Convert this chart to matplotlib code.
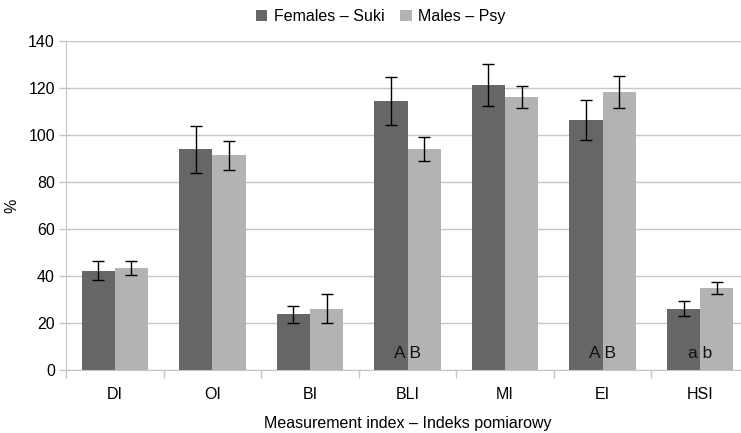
import matplotlib.pyplot as plt
import numpy as np

plt.rcParams['font.family'] = ['Liberation Sans', 'DejaVu Sans']

categories = ['DI', 'OI', 'BI', 'BLI', 'MI', 'EI', 'HSI']
females = [42.3, 94.0, 23.8, 114.4, 121.3, 106.3, 26.0]
females_err = [4.2, 10.0, 3.6, 10.2, 9.0, 8.4, 3.2]
males = [43.4, 91.3, 26.0, 94.0, 116.2, 118.3, 34.9]
males_err = [3.0, 6.2, 6.2, 5.2, 4.6, 7.0, 2.4]
labels = ['Females – Suki', 'Males – Psy']
letters = {'BLI': 'A B', 'EI': 'A B', 'HSI': 'a b'}

dark = '#666666'
light = '#b3b3b3'
grid = '#c6c6c6'
fs = 11.5

fig = plt.figure(figsize=(7.41, 4.33), dpi=100)
ax = fig.add_axes([66 / 741, 63 / 433, (749 - 66) / 741, (370 - 41) / 433])

x = np.arange(len(categories))
w = 0.34
ekw = dict(ecolor='black', elinewidth=1, capsize=4, capthick=1)
ax.bar(x - w / 2, females, w, color=dark, yerr=females_err, error_kw=ekw,
       label=labels[0], zorder=2)
ax.bar(x + w / 2, males, w, color=light, yerr=males_err, error_kw=ekw,
       label=labels[1], zorder=2)

for i, c in enumerate(categories):
    if c in letters:
        ax.text(i, 7, letters[c], ha='center', va='center', fontsize=12.5,
                color='#111111', zorder=3)

ax.set_xlim(-0.5, len(categories) - 0.5)
ax.set_ylim(0, 140)
ax.set_yticks(np.arange(0, 141, 20))
ax.yaxis.grid(True, color=grid, linewidth=1)
ax.set_axisbelow(True)

ax.set_xticks(x)
ax.set_xticklabels(categories, fontsize=fs)
ax.set_xticks(np.arange(-0.5, len(categories), 1), minor=True)
ax.tick_params(axis='x', which='major', length=0, pad=12)
ax.tick_params(axis='x', which='minor', length=6, color=grid, width=1)
ax.tick_params(axis='y', length=5, color=grid, width=1, labelsize=fs, pad=3)

for s in ['top', 'right']:
    ax.spines[s].set_visible(False)
ax.spines['left'].set_color(grid)
ax.spines['bottom'].set_color(grid)

ax.set_ylabel('%', fontsize=fs, labelpad=6)
ax.set_xlabel('Measurement index – Indeks pomiarowy', fontsize=fs, labelpad=10)

ax.legend(loc='upper center', bbox_to_anchor=(0.461, 1.14), ncol=2,
          frameon=False, fontsize=fs, handlelength=0.7, handleheight=0.7,
          handletextpad=0.4, columnspacing=1.0)

fig.savefig('out.png', dpi=100)
